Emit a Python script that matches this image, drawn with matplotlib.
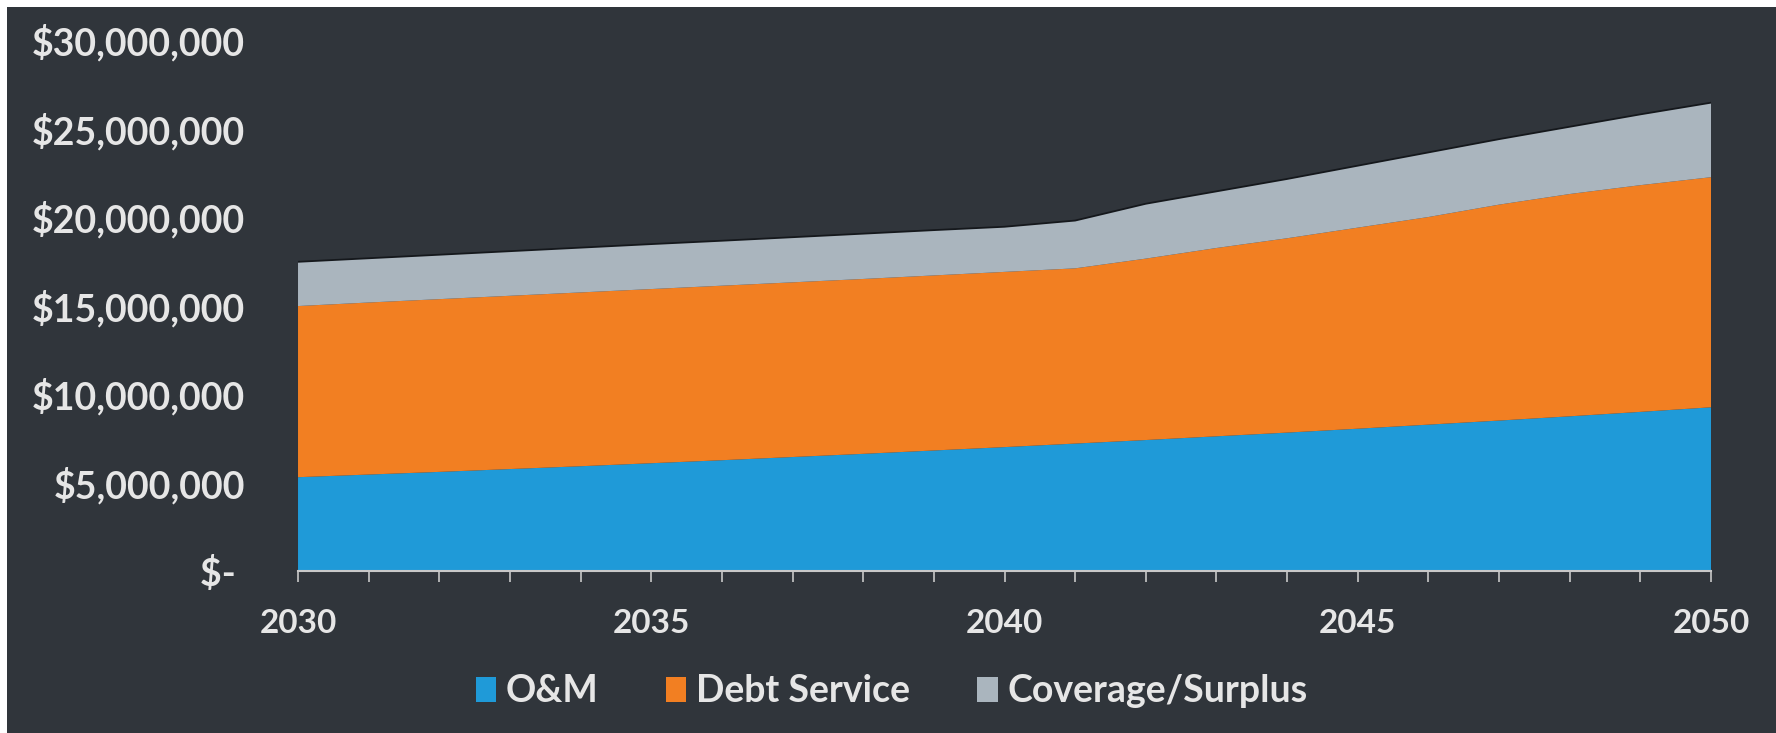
import matplotlib.pyplot as plt
from matplotlib.patches import Rectangle, Patch
from matplotlib.ticker import FuncFormatter, MultipleLocator

plt.rcParams['font.family'] = ['Lato', 'DejaVu Sans']

years = list(range(2030, 2051))

# values in $ millions
om = [5.30, 5.45, 5.60, 5.76, 5.92, 6.09, 6.26, 6.44, 6.62, 6.81, 7.00,
      7.20, 7.40, 7.61, 7.82, 8.04, 8.27, 8.50, 8.74, 8.99, 9.25]
debt_service = [9.67, 9.72, 9.76, 9.79, 9.82, 9.84, 9.86, 9.87, 9.88, 9.89, 9.90,
                9.90, 10.25, 10.64, 10.98, 11.36, 11.73, 12.20, 12.56, 12.81, 13.00]
coverage = [2.50, 2.50, 2.51, 2.52, 2.53, 2.54, 2.54, 2.55, 2.56, 2.56, 2.55,
            2.70, 3.10, 3.20, 3.35, 3.50, 3.65, 3.70, 3.80, 4.00, 4.21]

labels = ['O&M', 'Debt Service', 'Coverage/Surplus']
colors = ['#1f9ad8', '#f27f22', '#aab5be']
bg = '#30353b'
txt = '#e6e6e6'

fig = plt.figure(figsize=(17.76, 7.33), dpi=100)
fig.patch.set_facecolor('white')
# dark slide background (thin white strip on the top and left of the scan)
fig.patches.append(Rectangle((7 / 1776, 0), 1, 1 - 7 / 733, transform=fig.transFigure,
                             facecolor=bg, edgecolor='none', zorder=-10))

ax = fig.add_axes([0.1678, 0.221, 0.9634 - 0.1678, 0.9454 - 0.221])
ax.set_facecolor('none')

vals = [[v * 1e6 for v in s] for s in (om, debt_service, coverage)]
ax.stackplot(years, *vals, colors=colors, labels=labels, linewidth=0)
total = [a + b + c for a, b, c in zip(*vals)]
ax.plot(years, total, color='#15181c', lw=1.3)

ax.set_xlim(2030, 2050)
ax.set_ylim(0, 30e6)
ax.yaxis.set_major_locator(MultipleLocator(5e6))
ax.yaxis.set_major_formatter(FuncFormatter(lambda v, p: '$- ' if v == 0 else f'${v:,.0f}'))
ax.set_xticks([2030, 2035, 2040, 2045, 2050])
ax.set_xticks(years, minor=True)

for s in ['top', 'right', 'left']:
    ax.spines[s].set_visible(False)
ax.spines['bottom'].set_color('#c8c8c8')
ax.spines['bottom'].set_linewidth(1.5)

ax.tick_params(axis='y', length=0, pad=38, labelsize=27, labelcolor=txt)
ax.tick_params(axis='x', which='both', direction='out', length=8, width=1.2,
               color='#c8c8c8', labelsize=24, labelcolor=txt, pad=19)
for t in ax.get_xticklabels() + ax.get_yticklabels():
    t.set_fontweight('bold')

handles = [Patch(facecolor=c, edgecolor='none') for c in colors]
leg = fig.legend(handles, labels, loc='center', bbox_to_anchor=(0.502, 0.057), ncol=3,
                 frameon=False, fontsize=27, handlelength=0.55, handleheight=0.65,
                 handletextpad=0.25, columnspacing=1.8)
for t in leg.get_texts():
    t.set_color(txt)
    t.set_fontweight('bold')

fig.savefig('out.png', dpi=100, facecolor=fig.get_facecolor())
